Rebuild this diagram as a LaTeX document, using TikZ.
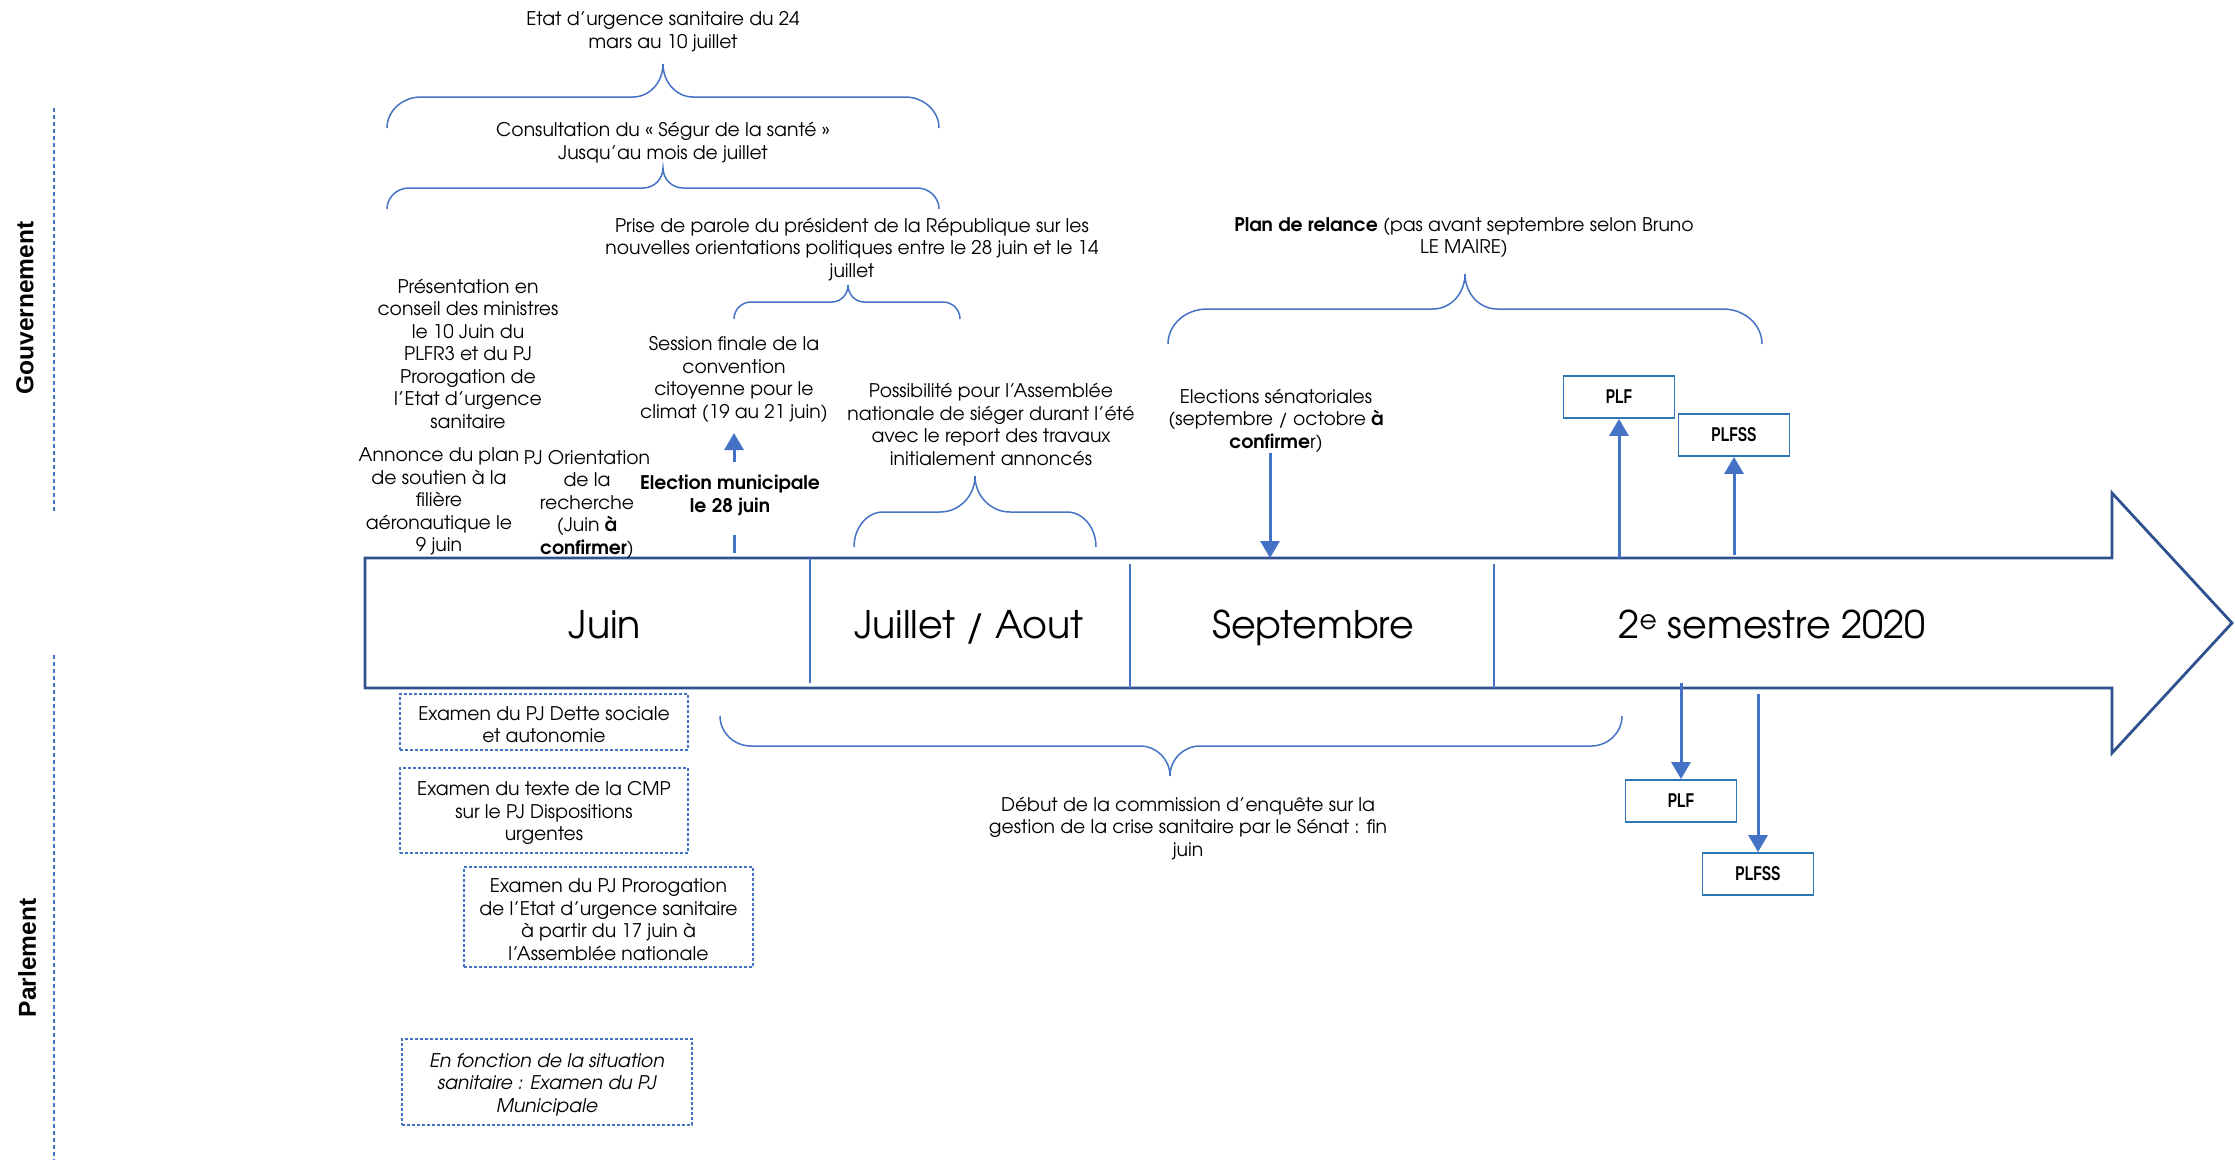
\documentclass[tikz,border=0pt]{standalone}
\usepackage{fontspec}
\setmainfont{TeX Gyre Adventor}
\newfontfamily\arialfont{Liberation Sans}
\usepackage{graphicx}
\usetikzlibrary{arrows.meta}
\definecolor{bl}{HTML}{4472C4}
\definecolor{dk}{HTML}{2F528F}
\definecolor{bx}{HTML}{2E75B6}
\tikzset{
  txt/.style={align=center, inner sep=0pt, yshift=-2.5pt, text=black, font=\fontsize{18.8}{22.5}\selectfont},
  month/.style={inner sep=0pt, anchor=base, text=black, font=\fontsize{38}{44}\selectfont},
  brc/.style={draw=bl, line width=1.5pt},
  arr/.style={draw=bl, line width=3pt, -{Triangle[length=17pt,width=19pt]}},
  tick/.style={draw=bl, line width=3pt},
  divline/.style={draw=bl, line width=1.5pt},
  sidedash/.style={draw=bl, line width=1.3pt, dash pattern=on 4pt off 3pt},
  dframe/.style={draw=bl, line width=1.2pt, dash pattern=on 3pt off 2pt, inner sep=0pt},
  pbox/.style={draw=bx, line width=1.8pt, inner sep=0pt, minimum width=111pt, minimum height=42pt, text=black, font=\arialfont\bfseries\fontsize{20}{22}\selectfont},
  side/.style={rotate=90, inner sep=0pt, text=black, font=\arialfont\bfseries\fontsize{24.5}{28}\selectfont},
}
% #1 x1, #2 x2, #3 xc, #4 yend, #5 yh, #6 ytip, #7 r, #8 c
\newcommand\mybrace[8]{%
  \draw[brc] (#1,#4) .. controls (#1,{#4+0.552*(#5-#4)}) and ({#1+0.448*#7},#5) .. ({#1+#7},#5)
    -- ({#3-#8},#5) .. controls ({#3-0.448*#8},#5) and (#3,{#6+0.552*(#5-#6)}) .. (#3,#6)
    .. controls (#3,{#6+0.552*(#5-#6)}) and ({#3+0.448*#8},#5) .. ({#3+#8},#5)
    -- ({#2-#7},#5) .. controls ({#2-0.448*#7},#5) and (#2,{#4+0.552*(#5-#4)}) .. (#2,#4);}
\begin{document}
\begin{tikzpicture}[x=1pt,y=-1pt]
\useasboundingbox (0,0) rectangle (2235,1160);

% side labels
\draw[sidedash] (54,108) -- (54,513);
\draw[sidedash] (54,655) -- (54,1160);
\node[side] (gouv) at (25,308) {Gouvernement};
\node[side] (parl) at (27,958) {Parlement};

% main arrow
\draw[dk, line width=2.8pt, line join=miter] (365,558) -- (2112,558) -- (2112,493) -- (2232,623) -- (2112,753) -- (2112,688) -- (365,688) -- cycle;
\draw[divline] (810,558) -- (810,683);
\draw[divline] (1130,564) -- (1130,688);
\draw[divline] (1494,564) -- (1494,688);

\node[month] (juin) at (605,638.5) {Juin};
\node[month] (juil) at (969,638.5) {Juillet / Aout};
\node[month] (sept) at (1313,638.5) {Septembre};
\node[month] (sem) at (1772,638.5) {2\textsuperscript{e} semestre 2020};

% braces
\mybrace{387}{939}{663}{128}{97}{64}{34}{30}
\mybrace{387}{939}{663}{209}{188}{168}{22}{20}
\mybrace{734}{960}{848}{319}{302}{285}{17}{16}
\mybrace{854}{1096}{975}{547}{512}{476}{29}{35}
\mybrace{1168}{1762}{1465}{344}{309}{274}{39}{32}
\mybrace{720}{1622}{1170}{716}{746}{776}{31}{30}

% top texts
\node[txt] (etat) at (663,29) {Etat d’urgence sanitaire du 24\\mars au 10 juillet};
\node[txt] (segur) at (663,140) {Consultation du « Ségur de la santé »\\Jusqu’au mois de juillet};
\node[txt] (prise) at (852,247) {Prise de parole du président de la République sur les\\nouvelles orientations politiques entre le 28 juin et le 14\\juillet};
\node[txt] (pres) at (468,351) {Présentation en\\conseil des ministres\\le 10 Juin du\\PLFR3 et du PJ\\Prorogation de\\l’Etat d’urgence\\sanitaire};
\node[txt] (session) at (734,377) {Session finale de la\\convention\\citoyenne pour le\\climat (19 au 21 juin)};
\node[txt] (annonce) at (439,499) {Annonce du plan\\de soutien à la\\filière\\aéronautique le\\9 juin};
\node[txt] (pjo) at (587,502) {PJ Orientation\\de la\\recherche\\(Juin \textbf{à}\\\textbf{confirmer})};
\node[txt, font=\fontsize{18.8}{22.5}\selectfont\bfseries] (elecm) at (730,493) {Election municipale\\le 28 juin};
\node[txt] (poss) at (991,422) {Possibilité pour l’Assemblée\\nationale de siéger durant l’été\\avec le report des travaux\\initialement annoncés};
\node[txt] (plan) at (1464,235) {\textbf{Plan de relance} (pas avant septembre selon Bruno\\LE MAIRE)};
\node[txt] (elec) at (1276,418) {Elections sénatoriales\\(septembre / octobre \textbf{à}\\\textbf{confirme}r)};

% government arrows and boxes
\coordinate (sessFoot) at (734,462);
\coordinate (sessTip) at (734,433);
\draw[arr] (sessFoot) -- (sessTip);
\coordinate (tickA) at (734,535);
\coordinate (tickB) at (734,553);
\draw[tick] (tickA) -- (tickB);
\coordinate (elecEnd) at (1270,558);
\draw[arr] (elec.south -| elecEnd) -- (elecEnd);

\node[pbox] (plfG) at (1619,397) {\scalebox{0.7}[1]{PLF}};
\node[pbox] (plfssG) at (1734,435) {\scalebox{0.7}[1]{PLFSS}};
\coordinate (plfGfoot) at (1619,558);
\coordinate (plfssGfoot) at (1734,555);
\draw[arr] (plfGfoot) -- (plfG.south);
\draw[arr] (plfssGfoot) -- (plfssG.south);

% parliament
\node[dframe, minimum width=288pt, minimum height=56pt] (b1) at (544,722) {};
\node[txt] (b1t) at (b1.center) {Examen du PJ Dette sociale\\et autonomie};
\node[dframe, minimum width=288pt, minimum height=85pt] (b2) at (544,810.5) {};
\node[txt] (b2t) at (b2.center) {Examen du texte de la CMP\\sur le PJ Dispositions\\urgentes};
\node[dframe, minimum width=289pt, minimum height=100pt] (b3) at (608.5,917) {};
\node[txt] (b3t) at (b3.center) {Examen du PJ Prorogation\\de l’Etat d’urgence sanitaire\\à partir du 17 juin à\\l’Assemblée nationale};
\node[dframe, minimum width=290pt, minimum height=86pt] (b4) at (547,1082) {};
\node[txt, font=\fontsize{18.8}{22.5}\selectfont\itshape] (b4t) at (b4.center) {En fonction de la situation\\sanitaire : Examen du PJ\\Municipale};

\node[txt] (comm) at (1188,826) {Début de la commission d’enquête sur la\\gestion de la crise sanitaire par le Sénat : fin\\juin};

\node[pbox] (plfP) at (1681,801) {\scalebox{0.7}[1]{PLF}};
\node[pbox] (plfssP) at (1758,874) {\scalebox{0.7}[1]{PLFSS}};
\coordinate (plfPtop) at (1681,683);
\coordinate (plfssPtop) at (1758,694);
\draw[arr] (plfPtop) -- (plfP.north);
\draw[arr] (plfssPtop) -- (plfssP.north);
\end{tikzpicture}
\end{document}
